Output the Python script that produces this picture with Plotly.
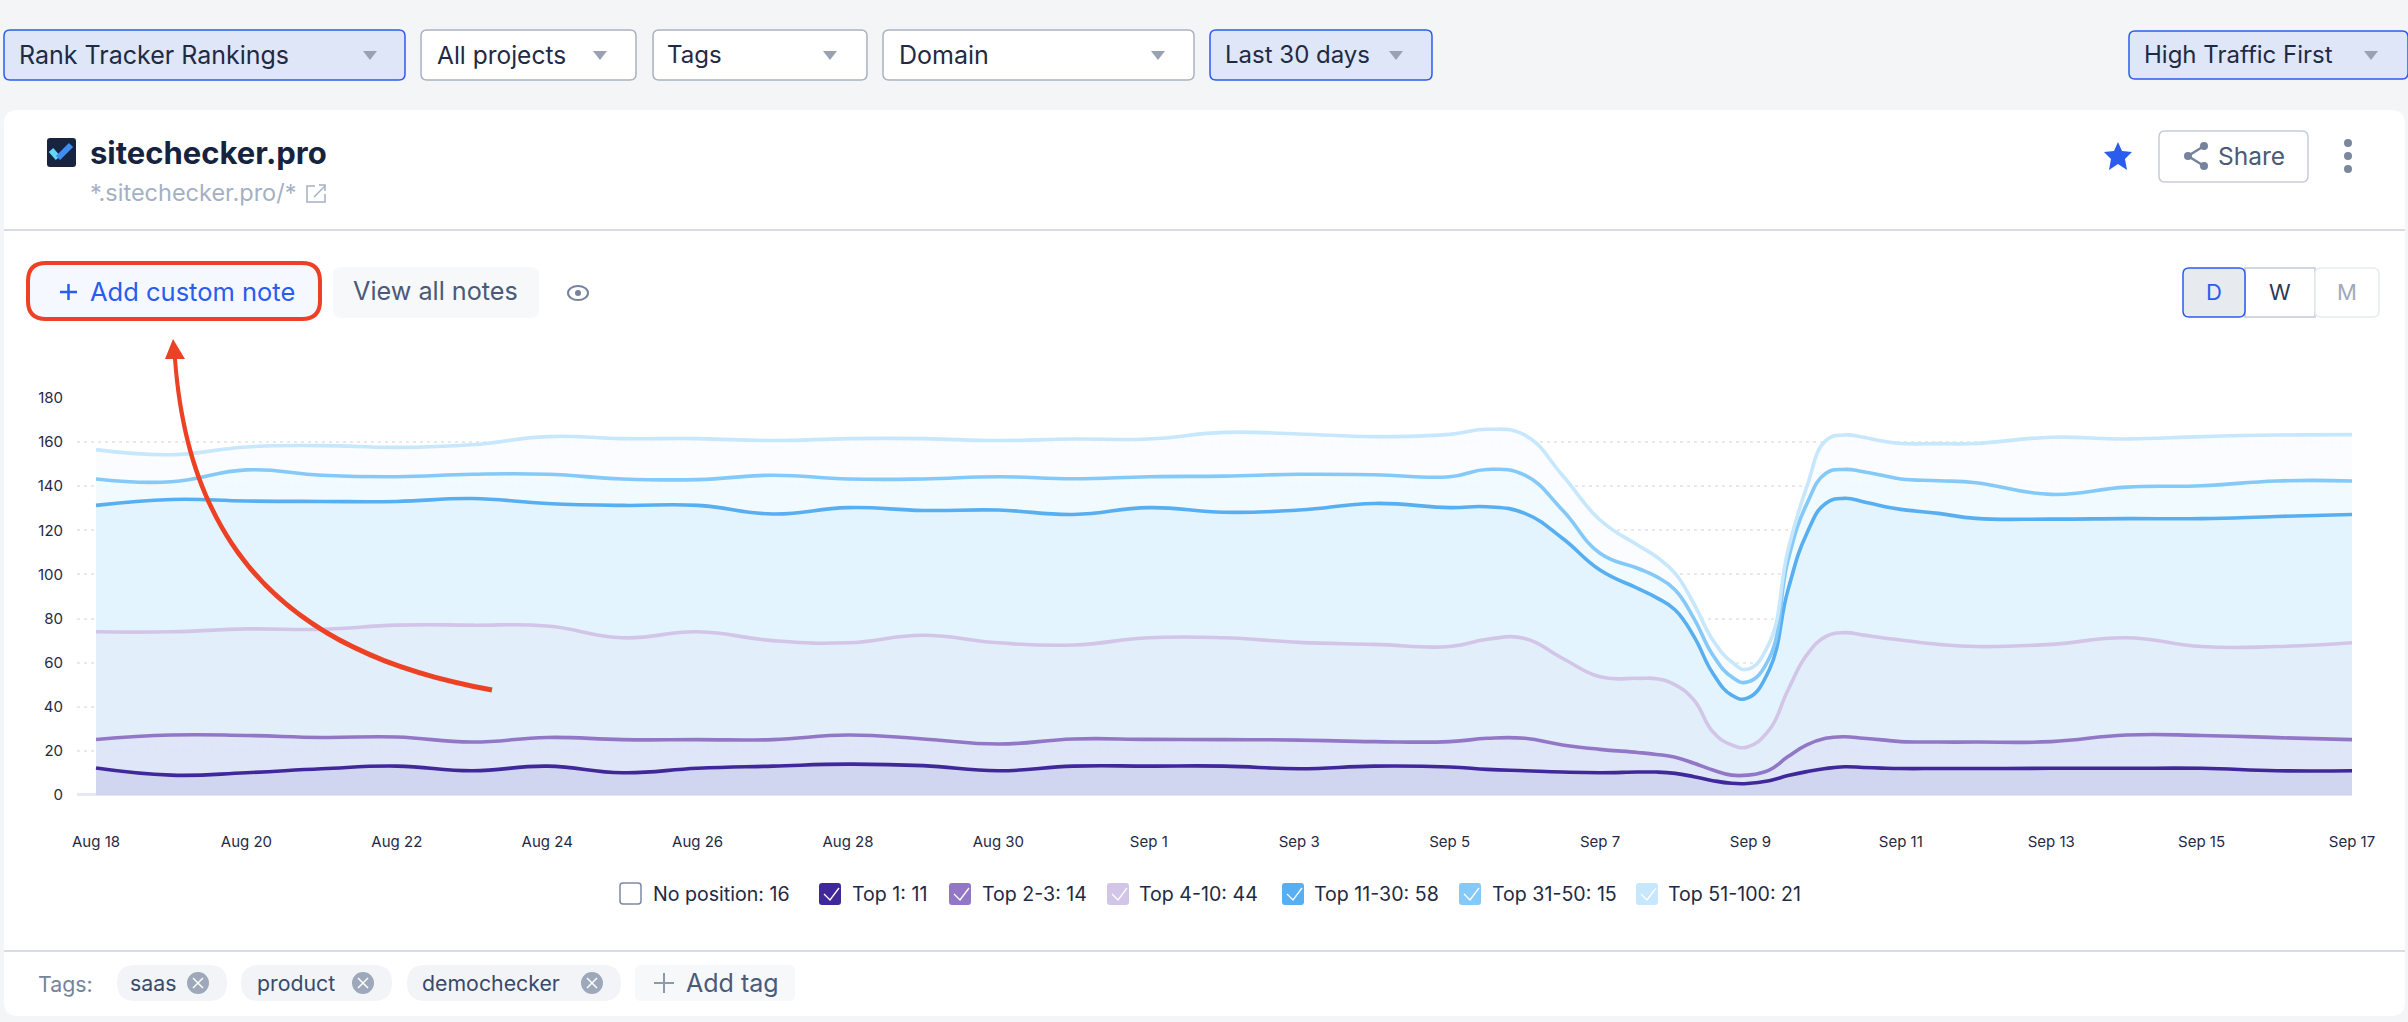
import plotly.graph_objects as go

W, H = 2408, 1022
FONT = "Inter"

# ---------- data ----------
dates = [
    "2023-08-18", "2023-08-19", "2023-08-20", "2023-08-21", "2023-08-22", "2023-08-23", "2023-08-24",
    "2023-08-25", "2023-08-26", "2023-08-27", "2023-08-28", "2023-08-29", "2023-08-30", "2023-08-31",
    "2023-09-01", "2023-09-02", "2023-09-03", "2023-09-04", "2023-09-05", "2023-09-05 12:00",
    "2023-09-06", "2023-09-06 12:00", "2023-09-07", "2023-09-07 12:00", "2023-09-07 18:00", "2023-09-08", "2023-09-08 06:00", "2023-09-08 12:00",
    "2023-09-08 18:00", "2023-09-08 23:00", "2023-09-09 06:00", "2023-09-09 12:00", "2023-09-09 18:00",
    "2023-09-10", "2023-09-10 06:00", "2023-09-10 12:00", "2023-09-10 18:00", "2023-09-11", "2023-09-11 12:00", "2023-09-12",
    "2023-09-13", "2023-09-14", "2023-09-15", "2023-09-16", "2023-09-17",
]
top_1 = [12.2, 9, 10.1, 11.9, 13.1, 11, 13.1, 10.1, 12.1, 13.1, 14, 13.3, 11, 13.1, 13.1, 13.1, 11.9, 13.1, 12.7,
         11.6, 11, 10.4, 10.1, 10.4, 10.4, 9.8, 8.3, 6.5, 5.3, 5.2, 6.5, 8.8, 10.6, 12, 12.8, 12.5, 12.2, 12, 12, 12,
         12.1, 12.1, 12.1, 11, 11]
top_2_3 = [25.2, 27.2, 27, 26.1, 26.3, 24, 26.1, 25.1, 25.1, 25.1, 27.2, 25.4, 23.1, 25.4, 25.2, 25.1, 24.9, 24.2, 24.2,
           25.7, 25.7, 22.7, 20.7, 19.3, 18.4, 17.1, 14.4, 11.3, 9, 9, 11.3, 17.4, 22.7, 25.7, 26.4, 25.7, 25, 24.2, 24, 24,
           24.2, 27.2, 27, 26, 25.1]
top_4_10 = [74, 74, 75.3, 75.1, 77, 77, 76.6, 71.3, 74, 70, 69, 72.4, 69, 68, 71.3, 71.3, 69.2, 68.3, 67.3,
            70.6, 71, 62, 53.6, 52.9, 52.7, 49.9, 43, 28.7, 22.7, 21.8, 29.5, 47.6, 63.5, 71.8, 73.6, 72.5, 71.3, 70.3, 68.3, 67.3,
            68.3, 71.3, 67.3, 67.3, 69]
top_11_30 = [131.3, 134, 133.3, 133.1, 133.1, 134.4, 132.2, 131.3, 131.3, 127.4, 130.3, 129, 129.2, 127.2, 130.3, 128.2, 129.2, 132.2, 130.3,
             130.7, 127.7, 116.4, 102, 93.7, 89.5, 83.9, 71.8, 55.2, 45.3, 43.9, 56.7, 93, 118.6, 132.2, 134.5, 133, 131, 129.5, 127.7, 125.4,
             125.1, 125.3, 125.3, 126.3, 127.2]
top_31_50 = [143.3, 142, 147.4, 145, 144.3, 145.4, 145.4, 143.3, 143, 145, 143.3, 143.3, 144.3, 143.4, 144.3, 144.6, 145.4, 145.2, 144.3,
             147.6, 145, 129.2, 109.6, 102.8, 99, 93, 80, 63.5, 53.6, 51.2, 62, 106.5, 132, 145.8, 147.6, 146.6, 145, 143.3, 142.5, 141.6,
             136.3, 139.6, 140.2, 142.4, 142.4]
top_51_100 = [156.6, 154.3, 157.8, 158.4, 157.6, 158.8, 162.5, 161.6, 161.6, 160.7, 161.6, 161.6, 160.7, 161.4, 161.4, 164.4, 163.7, 162.5, 163.5,
              165.8, 163.2, 145, 124.7, 113.3, 108, 100.5, 86.6, 70.3, 60.4, 57, 68.8, 111, 139.8, 160.6, 163.2, 162.2, 160.5, 159.4, 159.3, 159.4,
              162.2, 161.4, 162.5, 163.2, 163.4]
x_tick_vals = ["2023-08-18", "2023-08-20", "2023-08-22", "2023-08-24", "2023-08-26", "2023-08-28", "2023-08-30",
               "2023-09-01", "2023-09-03", "2023-09-05", "2023-09-07", "2023-09-09", "2023-09-11", "2023-09-13",
               "2023-09-15", "2023-09-17"]
x_tick_text = ["Aug 18", "Aug 20", "Aug 22", "Aug 24", "Aug 26", "Aug 28", "Aug 30", "Sep 1", "Sep 3", "Sep 5",
               "Sep 7", "Sep 9", "Sep 11", "Sep 13", "Sep 15", "Sep 17"]
y_ticks = [0, 20, 40, 60, 80, 100, 120, 140, 160, 180]
series_names = ["Top 1", "Top 2-3", "Top 4-10", "Top 11-30", "Top 31-50", "Top 51-100"]
series_values = [top_1, top_2_3, top_4_10, top_11_30, top_31_50, top_51_100]
legend_labels = ["No position: 16", "Top 1: 11", "Top 2-3: 14", "Top 4-10: 44", "Top 11-30: 58", "Top 31-50: 15", "Top 51-100: 21"]
tag_names = ["saas", "product", "demochecker"]

# ---------- styles ----------
line_colors = ["#40289a", "#9377c7", "#d2c5e8", "#57aef0", "#84c9f8", "#c6e7fc"]
band_colors = ["rgba(204,211,238,0.92)", "rgba(219,228,247,0.92)", "rgba(223,238,251,0.92)",
               "rgba(225,243,254,0.92)", "rgba(240,249,254,0.9)", "rgba(250,252,255,0.9)"]

def px(x): return round(x / W, 6)
def py(y): return round(1 - y / H, 6)
def P(x, y): return f"{px(x)},{py(y)}"

shapes, annos = [], []

def path(d, fill=None, line=None, lw=0, layer="above"):
    s = dict(type="path", xref="paper", yref="paper", path=d, layer=layer)
    if fill: s["fillcolor"] = fill
    s["line"] = dict(color=line or "rgba(0,0,0,0)", width=lw)
    shapes.append(s)

def rr(x0, y0, x1, y1, r):
    return (f"M{P(x0 + r, y0)} L{P(x1 - r, y0)} Q{P(x1, y0)} {P(x1, y0 + r)} L{P(x1, y1 - r)} Q{P(x1, y1)} {P(x1 - r, y1)} "
            f"L{P(x0 + r, y1)} Q{P(x0, y1)} {P(x0, y1 - r)} L{P(x0, y0 + r)} Q{P(x0, y0)} {P(x0 + r, y0)} Z")

def box(x0, y0, x1, y1, r=6, fill="#ffffff", line=None, lw=1.5, layer="above"):
    path(rr(x0, y0, x1, y1, r), fill=fill, line=line, lw=lw if line else 0, layer=layer)

def circle(cx, cy, r, fill=None, line=None, lw=0, ry=None):
    ry = ry if ry is not None else r
    s = dict(type="circle", xref="paper", yref="paper", x0=px(cx - r), x1=px(cx + r), y0=py(cy + ry), y1=py(cy - ry), layer="above",
             line=dict(color=line or "rgba(0,0,0,0)", width=lw))
    if fill: s["fillcolor"] = fill
    shapes.append(s)

def seg(pts, color, lw):
    path("M" + " L".join(P(*p) for p in pts), line=color, lw=lw)

def text(x, y, t, size=24, color="#1f2a44", anchor="left", bold=False):
    annos.append(dict(xref="paper", yref="paper", x=px(x), y=py(y), text=f"<b>{t}</b>" if bold else t, showarrow=False,
                      xanchor=anchor, yanchor="middle", borderpad=0, borderwidth=0,
                      font=dict(family=FONT, size=size, color=color)))

def caret(cx, cy, color="#98a2b3"):
    path(f"M{P(cx - 7, cy - 4)} L{P(cx + 7, cy - 4)} L{P(cx, cy + 5)} Z", fill=color)

BLUE = "#2a5cf0"
SEL = "#dfe6f7"
DARK = "#1f2a44"
GREY = "#4a5a78"

# card
box(4, 110, 2405, 1016, r=14, fill="#ffffff", layer="below")
seg([(4, 230), (2405, 230)], "#c9d0da", 1.5)
seg([(4, 951), (2405, 951)], "#c9d0da", 1.5)

# dropdowns
for x0, x1, tx, cx, label, sel, y0, y1, fs in [
    (4, 405, 19, 370, "Rank Tracker Rankings", True, 30, 80, 25),
    (421, 636, 437, 600, "All projects", False, 30, 80, 24.5),
    (653, 867, 667, 830, "Tags", False, 30, 80, 24),
    (883, 1194, 899, 1158, "Domain", False, 30, 80, 25),
    (1210, 1432, 1225, 1396, "Last 30 days", True, 30, 80, 24),
    (2129, 2408, 2144, 2371, "High Traffic First", True, 31, 79, 24),
]:
    box(x0, y0, x1, y1, r=6, fill=SEL if sel else "#ffffff", line=BLUE if sel else "#a9b2c3", lw=1.5)
    text(tx, 55, label, fs, DARK)
    caret(cx, 55)

# title block
box(47, 138, 76, 167, r=3, fill="#17233f")
seg([(51, 150), (58, 158)], "#63d6f5", 6)
seg([(58, 158), (71, 145)], "#3f8df0", 6)
text(90, 152, "sitechecker.pro", 31, "#16233f", bold=True)
text(90, 192, "*.sitechecker.pro/*", 23.5, "#a5b0c4")
seg([(315, 186), (307, 186), (307, 202), (325, 202), (325, 194)], "#a5b0c4", 1.5)
seg([(314, 197), (325, 186)], "#a5b0c4", 1.5)
seg([(319, 185), (325, 185), (325, 191)], "#a5b0c4", 1.5)

# star, share, dots
star = [(2118, 142), (2122, 151), (2132, 152), (2125, 159), (2127, 170), (2118, 164), (2109, 170), (2111, 159), (2104, 152), (2114, 151)]
path("M" + " L".join(P(*p) for p in star) + " Z", fill=BLUE)
box(2159, 131, 2308, 182, r=6, fill="#ffffff", line="#c5ccd8", lw=1.5)
seg([(2204, 146), (2188, 156), (2204, 166)], "#75839c", 2.5)
for cy in (146, 166):
    circle(2204, cy, 4, fill="#75839c")
circle(2188, 156, 4, fill="#75839c")
text(2218, 156, "Share", 24.5, GREY)
for cy in (143, 156, 169):
    circle(2348, cy, 4, fill="#7b879c")

# note buttons
box(28, 263, 320, 319, r=18, fill="#f5f8fe", line="#ec4125", lw=4)
seg([(60, 292), (77, 292)], BLUE, 2.5)
seg([(68.5, 284), (68.5, 300)], BLUE, 2.5)
text(90, 291, "Add custom note", 25.5, BLUE)
box(333, 267, 539, 318, r=8, fill="#f6f8fa")
text(353, 291, "View all notes", 25.2, GREY)
circle(578, 293, 10, line="#75839c", lw=2, ry=7)
circle(578, 293, 3, fill="#75839c")

# D / W / M
box(2245, 268, 2315, 317, r=0, fill="#ffffff", line="#c2c9d6", lw=1.5)
box(2315, 268, 2379, 317, r=6, fill="#ffffff", line="#e8ebef", lw=1.5)
box(2183, 268, 2245, 317, r=6, fill="#e7eaef", line=BLUE, lw=1.5)
text(2214, 292, "D", 22, BLUE, "center")
text(2280, 292, "W", 22, "#2c3a58", "center")
text(2347, 292, "M", 22, "#a0a9bb", "center")

# red arrow
path(f"M{P(173, 359)} C{P(187.5, 561)} {P(299, 658)} {P(491.5, 692.5)} L{P(492.5, 687.5)} "
     f"C{P(301, 653)} {P(192.5, 558)} {P(177, 359)} Z", fill="#ec4125")
path(f"M{P(173, 339)} L{P(185, 359)} L{P(165, 359)} Z", fill="#ec4125")

# chart legend
legend_x = [(620, 653), (819, 852), (949, 982), (1107, 1139), (1282, 1314), (1459, 1492), (1636, 1668)]
legend_colors = [None] + line_colors
for (bx, tx), lab, col in zip(legend_x, legend_labels, legend_colors):
    if col is None:
        box(bx, 883, bx + 21, 904, r=3, fill="#ffffff", line="#7d8aa3", lw=1.5)
    else:
        box(bx, 883, bx + 22, 905, r=3, fill=col)
        seg([(bx + 5, 894), (bx + 11, 900), (bx + 20, 888)], "#ffffff", 1.3)
    text(tx, 894, lab, 19.6, DARK)

# tags
text(38, 984, "Tags:", 21.3, "#75839c")
tag_geom = [(117, 227, 130, 198), (241, 392, 257, 363), (407, 621, 422, 592)]
for name, (x0, x1, tx, cx) in zip(tag_names, tag_geom):
    box(x0, 965, x1, 1001, r=18, fill="#f2f4f7")
    text(tx, 983, name, 21.3, "#3a4a6b")
    circle(cx, 983, 11, fill="#9da8ba")
    seg([(cx - 5, 978), (cx + 5, 988)], "#ffffff", 1.5)
    seg([(cx - 5, 988), (cx + 5, 978)], "#ffffff", 1.5)
box(635, 965, 795, 1001, r=6, fill="#f6f8fa")
seg([(654, 983), (674, 983)], "#8c98ac", 2)
seg([(664, 973), (664, 993)], "#8c98ac", 2)
text(686, 983, "Add tag", 25, GREY)

# ---------- chart ----------
fig = go.Figure()
for i, (name, vals, lc, bc) in enumerate(zip(series_names, series_values, line_colors, band_colors)):
    fig.add_trace(go.Scatter(
        x=dates, y=vals, name=name, mode="lines",
        line=dict(color=lc, width=3.6, shape="spline", smoothing=1.3),
        fill="tozeroy" if i == 0 else "tonexty", fillcolor=bc,
        hoverinfo="x+y+name",
    ))

fig.update_layout(
    width=W, height=H, margin=dict(l=0, r=0, t=0, b=0, autoexpand=False), autosize=False,
    paper_bgcolor="#f3f5f7", plot_bgcolor="rgba(0,0,0,0)", showlegend=False,
    font=dict(family=FONT, size=15, color=DARK),
    shapes=shapes, annotations=annos,
    xaxis=dict(domain=[px(77), px(2352)], range=["2023-08-17 17:56", "2023-09-17 00:00"], type="date", automargin=False,
               tickmode="array", tickvals=x_tick_vals, ticktext=x_tick_text, ticks="outside", ticklen=33,
               tickcolor="rgba(0,0,0,0)", showgrid=False, zeroline=False, showline=False,
               tickfont=dict(family=FONT, size=15, color=DARK), tickangle=0),
    yaxis=dict(domain=[py(795), py(398)], range=[0, 180], tickmode="array", tickvals=y_ticks, ticktext=[str(v) for v in y_ticks],
               automargin=False, ticks="outside", ticklen=10, tickcolor="rgba(0,0,0,0)", showgrid=True, gridcolor="#e6e9ee", griddash="3px,4px",
               gridwidth=1.5, zeroline=True, zerolinecolor="#e5e8ef", zerolinewidth=2.5, showline=False,
               tickfont=dict(family=FONT, size=15, color=DARK)),
)

fig.write_html("out.html", config=dict(displayModeBar=False),
               post_script="document.body.style.margin='0';document.body.style.overflow='hidden';")
